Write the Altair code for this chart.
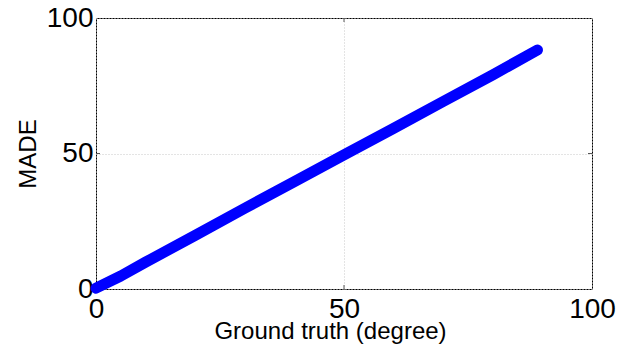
import altair as alt
import pandas as pd

# Data
ground_truth = [0, 5, 10, 20, 30, 40, 50, 60, 70, 80, 89]
made = [0.3, 4.8, 9.9, 19.8, 29.8, 39.6, 49.5, 59.3, 69.2, 79.0, 88.2]
tick_values = [0, 50, 100]
grid_ticks = [50]

df = pd.DataFrame({"gt": ground_truth, "made": made})
tdf = pd.DataFrame({"gt": grid_ticks, "made": grid_ticks})

FONT = "Liberation Sans"
W, H = 496, 271

xscale = alt.Scale(domain=[0, 100], nice=False, zero=False)
yscale = alt.Scale(domain=[0, 100], nice=False, zero=False)

xaxis = alt.Axis(
    values=tick_values, title="Ground truth (degree)",
    titleX=234, titleY=49, titleBaseline="alphabetic", titleAlign="center",
    labelPadding=6, labelBaseline="top",
)
yaxis = alt.Axis(
    values=tick_values, title="MADE",
    titleX=-61, titleY=135.5, titleBaseline="alphabetic", titleAlign="center",
    labelPadding=3, labelBaseline="middle",
)

line = alt.Chart(df).mark_line(
    color="#0000ff", strokeWidth=11, strokeCap="round", strokeJoin="round"
).encode(
    x=alt.X("gt:Q", scale=xscale, axis=xaxis),
    y=alt.Y("made:Q", scale=yscale, axis=yaxis),
)

tick_color = "#555555"
xt_bottom = alt.Chart(tdf).mark_rule(color=tick_color, strokeWidth=1).encode(
    x=alt.X("gt:Q", scale=xscale, axis=xaxis), y=alt.value(H), y2=alt.value(H - 4))
xt_top = alt.Chart(tdf).mark_rule(color=tick_color, strokeWidth=1).encode(
    x=alt.X("gt:Q", scale=xscale, axis=xaxis), y=alt.value(0), y2=alt.value(4))
yt_left = alt.Chart(tdf).mark_rule(color=tick_color, strokeWidth=1).encode(
    y=alt.Y("made:Q", scale=yscale, axis=yaxis), x=alt.value(0), x2=alt.value(4))
yt_right = alt.Chart(tdf).mark_rule(color=tick_color, strokeWidth=1).encode(
    y=alt.Y("made:Q", scale=yscale, axis=yaxis), x=alt.value(W), x2=alt.value(W - 4))

chart = alt.layer(line, xt_bottom, xt_top, yt_left, yt_right).properties(
    width=W, height=H,
    autosize=alt.AutoSizeParams(type="none"),
    padding={"left": 96, "top": 18, "right": 37, "bottom": 58},
    background="white",
).configure_view(
    stroke="black", strokeWidth=1
).configure_axis(
    domain=False, ticks=False,
    grid=True, gridColor="#c8c8c8", gridDash=[1, 2], gridWidth=1,
    labelFont=FONT, labelFontSize=28, labelColor="black",
    labelFlush=False, labelOverlap=False, labelBound=False,
    titleFont=FONT, titleFontSize=24, titleColor="black", titleFontWeight="normal",
)

chart.save("out.html", embed_options={"renderer": "svg", "actions": False})
